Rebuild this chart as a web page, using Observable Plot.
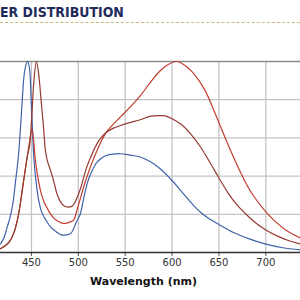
<!DOCTYPE html>
<html>
<head>
<meta charset="utf-8">
<script src="https://cdn.jsdelivr.net/npm/d3@7"></script>
<script src="https://cdn.jsdelivr.net/npm/@observablehq/plot@0.6"></script>
<style>
  html, body { margin: 0; padding: 0; background: #fff; }
  body { width: 300px; height: 300px; overflow: hidden; font-family: "DejaVu Sans", Verdana, sans-serif; }
  #title {
    height: 22px;
    border-bottom: 1px dashed #c9b97a;
    overflow: hidden;
  }
  #title span {
    display: inline-block;
    line-height: 24px;
    font-size: 13.5px;
    font-weight: bold;
    color: #1f2b5c;
    white-space: nowrap;
    transform: scaleX(0.93);
    transform-origin: 0 50%;
  }
</style>
</head>
<body>
<div id="title"><span>ER DISTRIBUTION</span></div>
<div id="chart"></div>
<script>
// Spectral power distribution of three white sources (normalised to peak = 1)
const blueWl = [417, 421, 424, 427, 430, 433, 436, 438, 440, 442, 444, 446, 448, 449.5, 451, 452.5, 454.5, 457.5, 461, 466, 471, 476, 482, 487, 492, 498, 502, 506, 510, 513, 517, 520, 525, 530, 537, 545, 555, 566, 577, 587, 600, 610, 620, 630, 640, 650, 665, 683, 699, 718, 737];
const blueVal = [0.045, 0.08, 0.13, 0.18, 0.25, 0.37, 0.50, 0.63, 0.78, 0.92, 0.98, 1.0, 0.96, 0.82, 0.66, 0.50, 0.39, 0.28, 0.21, 0.165, 0.13, 0.11, 0.092, 0.092, 0.10, 0.16, 0.20, 0.29, 0.37, 0.41, 0.45, 0.473, 0.495, 0.508, 0.515, 0.517, 0.51, 0.50, 0.475, 0.44, 0.377, 0.32, 0.262, 0.212, 0.175, 0.147, 0.106, 0.07, 0.045, 0.025, 0.014];

const warmWl = [417, 422, 427, 431, 435, 438, 440, 443, 445.5, 448, 450.5, 452.5, 454, 456, 459.6, 463, 467, 472, 477, 482, 486, 491, 495, 499, 509, 520, 530, 545, 556, 566, 576, 586, 595, 605, 615, 625, 635, 645, 655, 665, 675, 685, 698, 710, 722, 737];
const warmVal = [0.02, 0.035, 0.06, 0.10, 0.17, 0.25, 0.32, 0.42, 0.50, 0.58, 0.648, 0.58, 0.49, 0.42, 0.325, 0.27, 0.23, 0.19, 0.167, 0.155, 0.152, 0.16, 0.17, 0.23, 0.394, 0.534, 0.63, 0.71, 0.765, 0.82, 0.885, 0.945, 0.982, 1.0, 0.975, 0.925, 0.85, 0.74, 0.62, 0.505, 0.40, 0.31, 0.225, 0.163, 0.115, 0.075];

const neutralWl = [417, 422, 427, 431, 435, 438, 440, 443, 445.5, 448, 450, 452.5, 455.3, 457.8, 460.4, 463, 465, 467, 469, 471, 474, 477, 481, 485, 490, 494, 498, 502, 509, 515, 520, 525, 530, 537, 545, 555, 566, 577, 587, 593, 600, 610, 620, 630, 640, 650, 660, 670, 680, 690, 700, 712, 724, 737];
const neutralVal = [0.02, 0.035, 0.06, 0.10, 0.17, 0.25, 0.32, 0.42, 0.50, 0.56, 0.68, 0.89, 1.0, 0.93, 0.79, 0.65, 0.53, 0.48, 0.45, 0.42, 0.37, 0.31, 0.265, 0.243, 0.238, 0.245, 0.28, 0.33, 0.447, 0.52, 0.57, 0.605, 0.63, 0.65, 0.665, 0.68, 0.695, 0.714, 0.717, 0.715, 0.70, 0.67, 0.62, 0.555, 0.475, 0.39, 0.31, 0.245, 0.195, 0.152, 0.118, 0.087, 0.063, 0.045];

const xTicks = [450, 500, 550, 600, 650, 700];
const yTicks = [0.2, 0.4, 0.6, 0.8];

const toRows = (wl, val) => wl.map((w, i) => ({wl: w, v: val[i]}));
const blue = toRows(blueWl, blueVal);
const warm = toRows(warmWl, warmVal);
const neutral = toRows(neutralWl, neutralVal);

const font = "DejaVu Sans, Verdana, sans-serif";

const chart = Plot.plot({
  width: 300,
  height: 277,
  marginTop: 38,
  marginBottom: 48,
  marginLeft: 0,
  marginRight: 0,
  style: {fontFamily: font, background: "#fff", overflow: "visible"},
  x: {domain: [417, 737], ticks: xTicks},
  y: {domain: [0, 1], axis: null},
  marks: [
    Plot.gridX(xTicks, {stroke: "#c4c4c4", strokeOpacity: 1, strokeWidth: 1.3}),
    Plot.gridY(yTicks, {stroke: "#c4c4c4", strokeOpacity: 1, strokeWidth: 1.3}),
    Plot.ruleY([1], {stroke: "#8a8a8a", strokeWidth: 1.3}),
    Plot.axisX(xTicks, {
      tickSize: 4, tickPadding: 2, fontSize: 10, fill: "#333",
      stroke: "#555", label: null
    }),
    Plot.ruleY([0], {stroke: "#333", strokeWidth: 1.3}),
    Plot.line(blue, {x: "wl", y: "v", stroke: "#3f62a8", strokeWidth: 1.2, curve: "catmull-rom"}),
    Plot.line(warm, {x: "wl", y: "v", stroke: "#c23e30", strokeWidth: 1.2, curve: "catmull-rom"}),
    Plot.line(neutral, {x: "wl", y: "v", stroke: "#943a30", strokeWidth: 1.2, curve: "catmull-rom"}),
    Plot.text(["Wavelength (nm)"], {
      frameAnchor: "bottom", dy: 32, dx: -7,
      fontWeight: "bold", fontSize: 11, fill: "#111"
    })
  ]
});

document.getElementById("chart").appendChild(chart);
</script>
</body>
</html>
